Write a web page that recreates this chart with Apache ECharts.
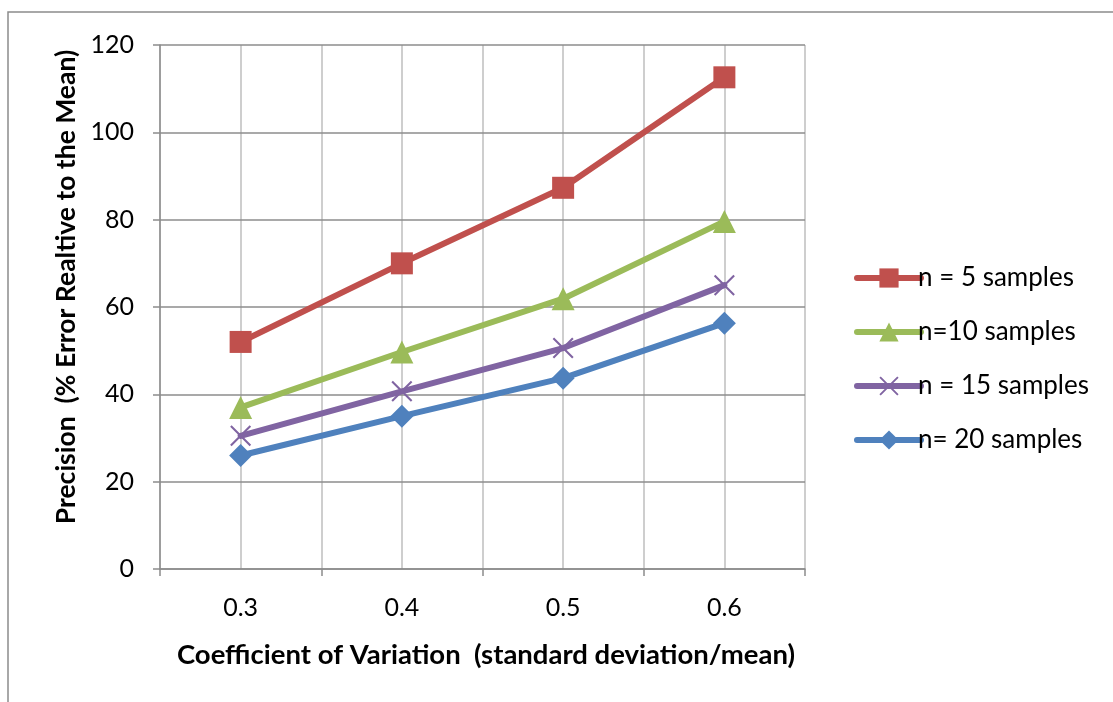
<!DOCTYPE html>
<html>
<head>
<meta charset="utf-8">
<script src="https://cdn.jsdelivr.net/npm/echarts@6/dist/echarts.min.js"></script>
<style>
html,body{margin:0;padding:0;background:#fff;}
#chart{width:1113px;height:702px;}
</style>
</head>
<body>
<div id="chart"></div>
<script>
const categories = ['0.3', '0.4', '0.5', '0.6'];
const n5 = [52.0, 70.0, 87.3, 112.6];
const n10 = [37.0, 49.7, 61.9, 79.6];
const n15 = [30.5, 40.7, 50.6, 65.0];
const n20 = [26.0, 35.0, 43.7, 56.3];
const seriesNames = ['n = 5 samples', 'n=10 samples', 'n = 15 samples', 'n= 20 samples'];
const yTicks = [0, 20, 40, 60, 80, 100, 120];
const xTitle = 'Coefficient of Variation  (standard deviation/mean)';
const yTitle = 'Precision  (% Error Realtive to the Mean)';

const FONT = 'Lato, "Open Sans", sans-serif';
const crossPath = 'path://M0,7 L7,0 L50,43 L93,0 L100,7 L57,50 L100,93 L93,100 L50,57 L7,100 L0,93 L43,50 Z';

const chart = echarts.init(document.getElementById('chart'), null, {renderer: 'canvas'});

function mkSeries(name, data, color, symbol, size) {
  return {
    name: name,
    type: 'line',
    xAxisIndex: 0,
    data: data,
    symbol: symbol,
    symbolSize: size,
    showSymbol: true,
    lineStyle: {color: color, width: 6, cap: 'round'},
    itemStyle: {color: color, borderColor: color, borderWidth: 0},
    emphasis: {disabled: true},
    animation: false,
    z: 3
  };
}

chart.setOption({
  backgroundColor: '#ffffff',
  animation: false,
  grid: {left: 160, right: 308, top: 45, bottom: 133, containLabel: false},
  legend: {
    orient: 'vertical',
    left: 849,
    top: 260,
    itemGap: 28,
    itemWidth: 64,
    itemHeight: 24,
    data: seriesNames,
    lineStyle: {width: 6, cap: 'round'},
    textStyle: {fontFamily: FONT, fontSize: 26, color: '#000', padding: [0, 0, 0, -8]},
  },
  xAxis: [
    {
      type: 'category',
      data: categories,
      boundaryGap: true,
      axisLine: {show: true, lineStyle: {color: '#8c8c8c', width: 1.5}},
      axisTick: {show: true, length: 7, lineStyle: {color: '#8c8c8c', width: 1.5}},
      axisLabel: {fontFamily: FONT, fontSize: 25, color: '#000', margin: 26},
      splitLine: {show: false},
      z: 2
    },
    {
      type: 'value',
      min: 0,
      max: 4,
      interval: 0.5,
      show: true,
      axisLine: {show: false},
      axisTick: {show: false},
      axisLabel: {show: false},
      splitLine: {show: true, lineStyle: {color: '#bebebe', width: 1.5}},
      z: 0
    }
  ],
  yAxis: {
    type: 'value',
    min: 0,
    max: 120,
    interval: 20,
    axisLine: {show: true, lineStyle: {color: '#8c8c8c', width: 1.5}},
    axisTick: {show: true, length: 7, lineStyle: {color: '#8c8c8c', width: 1.5}},
    axisLabel: {fontFamily: FONT, fontSize: 25, color: '#000', margin: 26,
      formatter: v => yTicks.indexOf(v) >= 0 ? String(v) : ''},
    splitLine: {show: true, lineStyle: {color: '#8c8c8c', width: 1.5}},
    z: 1
  },
  graphic: [
    {
      type: 'rect',
      shape: {x: 8, y: 12, width: 1300, height: 900},
      style: {fill: 'none', stroke: '#8c8c8c', lineWidth: 1.5},
      silent: true,
      z: -1
    },
    {
      type: 'text',
      x: 486, y: 655,
      style: {text: xTitle, fontFamily: FONT, fontSize: 27.5, fontWeight: 'bold', fill: '#000',
        textAlign: 'center', textVerticalAlign: 'middle'},
      silent: true
    },
    {
      type: 'text',
      x: 66, y: 287,
      rotation: Math.PI / 2,
      style: {text: yTitle, fontFamily: FONT, fontSize: 26.5, fontWeight: 'bold', fill: '#000',
        textAlign: 'center', textVerticalAlign: 'middle'},
      silent: true
    }
  ],
  series: [
    mkSeries(seriesNames[0], n5, '#C0504D', 'rect', 22),
    mkSeries(seriesNames[1], n10, '#9BBB59', 'triangle', 23),
    mkSeries(seriesNames[2], n15, '#8064A2', crossPath, 21),
    mkSeries(seriesNames[3], n20, '#4F81BD', 'diamond', 23)
  ]
});
</script>
</body>
</html>
